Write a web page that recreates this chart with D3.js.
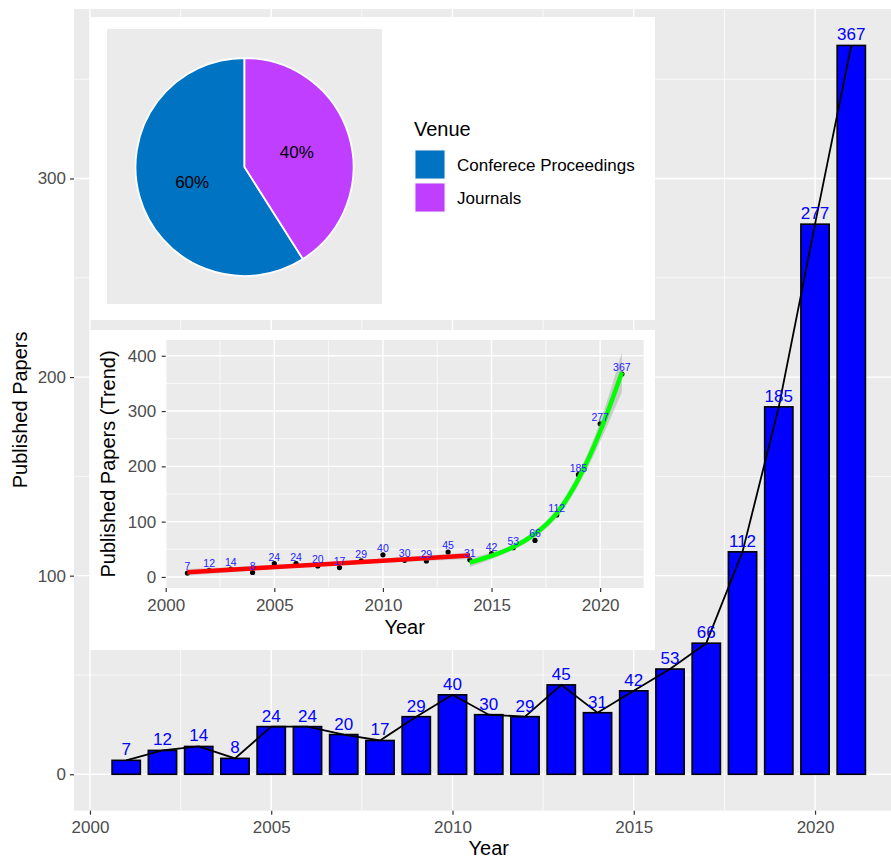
<!DOCTYPE html>
<html>
<head>
<meta charset="utf-8">
<script src="https://cdn.jsdelivr.net/npm/d3@7"></script>
<style>
  body { margin: 0; background: #fff; }
  svg { font-family: "Liberation Sans", Arial, sans-serif; display: block; }
</style>
</head>
<body>
<svg id="chart" width="891" height="861"></svg>
<script>
// published papers per year
const years = [2001, 2002, 2003, 2004, 2005, 2006, 2007, 2008, 2009, 2010, 2011,
               2012, 2013, 2014, 2015, 2016, 2017, 2018, 2019, 2020, 2021]
const papers = [7, 12, 14, 8, 24, 24, 20, 17, 29, 40, 30, 29, 45, 31, 42, 53, 66, 112, 185, 277, 367]

const mainYTicks = [0, 100, 200, 300]
const yearTicks = [2000, 2005, 2010, 2015, 2020]
const trendYTicks = [0, 100, 200, 300, 400]

// venue share (pie) - slice sizes as drawn, labels as printed
const venues = ["Conferece Proceedings", "Journals"]
const venueShare = [59, 41]
const venueLabels = ["60%", "40%"]
const venueColors = ["#0073C2", "#BF3EFF"]

// fitted trends
const lowTrendYears = [2001, 2007.5, 2014]
const lowTrendFit = [8.5, 23.6, 38.6]
const lowTrendBand = [6, 3, 6]
const highTrendYears = [2014, 2015, 2016, 2017, 2018, 2019, 2020, 2021]
const highTrendFit = [26, 38, 54, 78, 115, 177, 263, 370]
const highTrendBand = [8, 6, 5, 6, 8, 11, 18, 36]

const svg = d3.select("#chart")
const panelBg = "#EBEBEB"
const tickText = "#4D4D4D"

function grid(g, x, y, xMajor, xMinor, yMajor, yMinor) {
    let [x0, x1] = x.range()
    let [y0, y1] = y.range()
    g.append("rect").attr("x", x0).attr("y", y1).attr("width", x1 - x0).attr("height", y0 - y1).attr("fill", panelBg)
    g.selectAll(".xmin").data(xMinor).join("line").attr("class", "xmin")
        .attr("x1", d => x(d)).attr("x2", d => x(d)).attr("y1", y0).attr("y2", y1)
        .attr("stroke", "#fff").attr("stroke-width", 0.7)
    g.selectAll(".ymin").data(yMinor).join("line").attr("class", "ymin")
        .attr("y1", d => y(d)).attr("y2", d => y(d)).attr("x1", x0).attr("x2", x1)
        .attr("stroke", "#fff").attr("stroke-width", 0.7)
    g.selectAll(".xmaj").data(xMajor).join("line").attr("class", "xmaj")
        .attr("x1", d => x(d)).attr("x2", d => x(d)).attr("y1", y0).attr("y2", y1)
        .attr("stroke", "#fff").attr("stroke-width", 1.4)
    g.selectAll(".ymaj").data(yMajor).join("line").attr("class", "ymaj")
        .attr("y1", d => y(d)).attr("y2", d => y(d)).attr("x1", x0).attr("x2", x1)
        .attr("stroke", "#fff").attr("stroke-width", 1.4)
}

function styleAxis(g) {
    g.select(".domain").remove()
    g.selectAll(".tick line").attr("stroke", "#333").attr("stroke-width", 1.2)
    g.selectAll(".tick text").attr("fill", tickText).attr("font-size", 17)
}

// ---------- main bar chart ----------
const x = d3.scaleLinear().domain([1999.56, 2022.44]).range([74, 903.5])
const y = d3.scaleLinear().domain([-18.35, 385.35]).range([810.7, 9])

let mainG = svg.append("g")
grid(mainG, x, y, yearTicks, [2002.5, 2007.5, 2012.5, 2017.5, 2022.5], mainYTicks, [50, 150, 250, 350])

mainG.append("g").attr("transform", "translate(74,0)")
    .call(d3.axisLeft(y).tickValues(mainYTicks).tickSize(4).tickPadding(4))
    .call(styleAxis)
mainG.append("g").attr("transform", "translate(0,810.7)")
    .call(d3.axisBottom(x).tickValues(yearTicks).tickFormat(d3.format("d")).tickSize(4).tickPadding(6.5))
    .call(styleAxis)

let barW = x(2001.78) - x(2001)
mainG.selectAll(".bar").data(years).join("rect").attr("class", "bar")
    .attr("x", d => x(d) - barW / 2)
    .attr("y", (d, i) => y(papers[i]))
    .attr("width", barW)
    .attr("height", (d, i) => y(0) - y(papers[i]))
    .attr("fill", "#0000FF").attr("stroke", "#000").attr("stroke-width", 1.6)

mainG.append("path")
    .attr("d", d3.line().x(d => x(d)).y((d, i) => y(papers[i]))(years))
    .attr("fill", "none").attr("stroke", "#000").attr("stroke-width", 1.8)

mainG.selectAll(".lbl").data(years).join("text").attr("class", "lbl")
    .attr("x", d => x(d)).attr("y", (d, i) => y(papers[i]) - 5)
    .attr("text-anchor", "middle").attr("font-size", 17).attr("fill", "#0000FF")
    .text((d, i) => papers[i])

mainG.append("text").text("Year").attr("x", (74 + 903.5) / 2).attr("y", 855)
    .attr("text-anchor", "middle").attr("font-size", 20)
mainG.append("text").text("Published Papers")
    .attr("transform", `translate(27,${(810.7 + 9) / 2}) rotate(-90)`)
    .attr("text-anchor", "middle").attr("font-size", 20)

// ---------- pie inset ----------
let pieG = svg.append("g")
pieG.append("rect").attr("x", 90).attr("y", 17).attr("width", 565).attr("height", 303).attr("fill", "#fff")
pieG.append("rect").attr("x", 107).attr("y", 29).attr("width", 275).attr("height", 275).attr("fill", panelBg)

let venueData = venues.map((v, i) => ({name: v, share: venueShare[i], label: venueLabels[i], color: venueColors[i]}))
let pie = d3.pie().value(d => d.share).sort((a, b) => d3.descending(a.name, b.name))
let arc = d3.arc().innerRadius(0).outerRadius(109)
let pc = pieG.append("g").attr("transform", "translate(244.5,167)")
pc.selectAll("path").data(pie(venueData)).join("path")
    .attr("d", arc).attr("fill", d => d.data.color).attr("stroke", "#fff").attr("stroke-width", 1.8)
pc.selectAll("text").data(pie(venueData)).join("text")
    .attr("transform", d => `translate(${arc.centroid(d)})`)
    .attr("text-anchor", "middle").attr("dy", "0.35em").attr("font-size", 17)
    .text(d => d.data.label)

pieG.append("text").text("Venue").attr("x", 414).attr("y", 136).attr("font-size", 20)
let leg = pieG.selectAll(".key").data(venueData).join("g").attr("class", "key")
    .attr("transform", (d, i) => `translate(415,${150 + i * 33})`)
leg.append("rect").attr("width", 30).attr("height", 29).attr("fill", d => d.color)
    .attr("stroke", "#F2F2F2").attr("stroke-width", 1)
leg.append("text").text(d => d.name).attr("x", 42).attr("y", 15).attr("dy", "0.35em").attr("font-size", 17)

// ---------- trend inset ----------
let tG = svg.append("g")
tG.append("rect").attr("x", 90).attr("y", 330).attr("width", 565).attr("height", 320).attr("fill", "#fff")

const tx = d3.scaleLinear().domain([2000, 2022]).range([165.7, 643.6])
const ty = d3.scaleLinear().domain([-20, 428.5]).range([588, 340])
grid(tG, tx, ty, yearTicks, [2002.5, 2007.5, 2012.5, 2017.5], trendYTicks, [50, 150, 250, 350])

tG.append("g").attr("transform", "translate(165.7,0)")
    .call(d3.axisLeft(ty).tickValues(trendYTicks).tickSize(4).tickPadding(5.5))
    .call(styleAxis)
tG.append("g").attr("transform", "translate(0,588)")
    .call(d3.axisBottom(tx).tickValues(yearTicks).tickFormat(d3.format("d")).tickSize(4).tickPadding(7))
    .call(styleAxis)

tG.selectAll(".pt").data(years).join("circle").attr("class", "pt")
    .attr("cx", d => tx(d)).attr("cy", (d, i) => ty(papers[i])).attr("r", 2.6).attr("fill", "#000")

function trend(yrs, fit, band, color) {
    let area = d3.area().curve(d3.curveNatural)
        .x(d => tx(d)).y0((d, i) => ty(fit[i] - band[i])).y1((d, i) => ty(fit[i] + band[i]))
    tG.append("path").attr("d", area(yrs)).attr("fill", "#999").attr("fill-opacity", 0.4)
    let line = d3.line().curve(d3.curveNatural).x(d => tx(d)).y((d, i) => ty(fit[i]))
    tG.append("path").attr("d", line(yrs)).attr("fill", "none").attr("stroke", color).attr("stroke-width", 4.5)
}
trend(lowTrendYears, lowTrendFit, lowTrendBand, "#FF0000")
trend(highTrendYears, highTrendFit, highTrendBand, "#00FF00")

tG.selectAll(".tl").data(years).join("text").attr("class", "tl")
    .attr("x", d => tx(d)).attr("y", (d, i) => ty(papers[i]) - 3)
    .attr("text-anchor", "middle").attr("font-size", 10.5).attr("fill", "#2222FF")
    .text((d, i) => papers[i])

tG.append("text").text("Year").attr("x", (165.7 + 643.6) / 2).attr("y", 634)
    .attr("text-anchor", "middle").attr("font-size", 20)
tG.append("text").text("Published Papers (Trend)")
    .attr("transform", `translate(115,464) rotate(-90)`)
    .attr("text-anchor", "middle").attr("font-size", 20)
</script>
</body>
</html>
